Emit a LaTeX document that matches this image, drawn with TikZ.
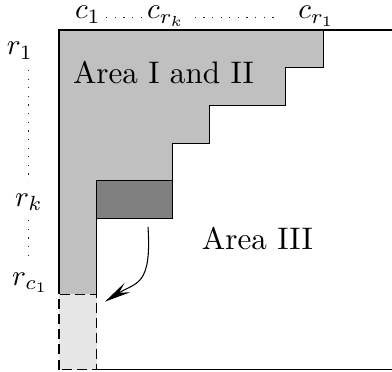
\documentclass[tikz,border=0pt]{standalone}
\usetikzlibrary{arrows.meta}
\definecolor{midgray}{HTML}{C0C0C0}
\definecolor{darkgray2}{HTML}{808080}
\definecolor{lightgray2}{HTML}{E6E6E6}
\newcommand{\lblbox}[1]{\scalebox{2.2}{#1}}
\newcommand{\areabox}[1]{\scalebox{2.35}{#1}}
\begin{document}
\begin{tikzpicture}[x=1cm,y=1cm,
  frame/.style={line width=0.8pt, line join=miter},
  lbl/.style={inner sep=0pt, anchor=base west},
  arealbl/.style={inner sep=0pt, anchor=base},
  dotline/.style={line width=0.9pt, dash pattern=on 0.9pt off 5.6pt, black!85},
  dashbox/.style={line width=0.8pt, dash pattern=on 7.5pt off 4pt}]
\useasboundingbox (-1.564,-0.04) rectangle (8.828,9.796);
% main staircase
\fill[midgray] (0,2) -- (0,9) -- (7,9) -- (7,8) -- (6,8) -- (6,7) -- (4,7) -- (4,6) -- (3,6) -- (3,5) -- (1,5) -- (1,2) -- cycle;
\draw[frame] (0,2) -- (0,9) -- (7,9) -- (7,8) -- (6,8) -- (6,7) -- (4,7) -- (4,6) -- (3,6) -- (3,5) -- (1,5) -- (1,2);
% outer frame
\draw[frame] (7,9) -- (8.828,9);
\draw[frame] (1,0) -- (8.828,0);
% dark box
\filldraw[fill=darkgray2, frame] (1,4) rectangle (3,5);
% light dashed box
\fill[lightgray2] (0,0) rectangle (1,2);
\draw[dashbox] (0,0) rectangle (1,2);
% texts
\node[arealbl] (a12) at (2.77,7.57) {\areabox{Area I and II}};
\node[arealbl] (a3) at (5.26,3.17) {\areabox{Area III}};
\node[lbl] (c1) at (0.42,9.30) {\lblbox{$c_1$}};
\node[lbl] (crk) at (2.33,9.30) {\lblbox{$c_{r_k}$}};
\node[lbl] (cr1) at (6.34,9.30) {\lblbox{$c_{r_1}$}};
\node[lbl] (r1) at (-1.39,8.34) {\lblbox{$r_1$}};
\node[lbl] (rk) at (-1.17,4.33) {\lblbox{$r_k$}};
\node[lbl] (rc1) at (-1.25,2.24) {\lblbox{$r_{c_1}$}};
% dotted leaders
\coordinate (d1a) at (1.25,9.33); \coordinate (d1b) at (2.22,9.33);
\coordinate (d2a) at (3.6,9.33); \coordinate (d2b) at (5.8,9.33);
\coordinate (v1a) at (-0.81,7.94); \coordinate (v1b) at (-0.81,4.97);
\coordinate (v2a) at (-0.81,3.96); \coordinate (v2b) at (-0.81,3.04);
\draw[dotline] (d1a) -- (d1b);
\draw[dotline] (d2a) -- (d2b);
\draw[dotline] (v1a) -- (v1b);
\draw[dotline] (v2a) -- (v2b);
% arrow
\coordinate (as) at (2.36,3.78);
\coordinate (ae) at (1.22,1.80);
\draw[line width=0.8pt, -{Stealth[length=7mm, width=2.9mm, inset=2.6mm]}] (as) .. controls (2.46,2.2) and (2.05,2.32) .. (ae);
\end{tikzpicture}
\end{document}
